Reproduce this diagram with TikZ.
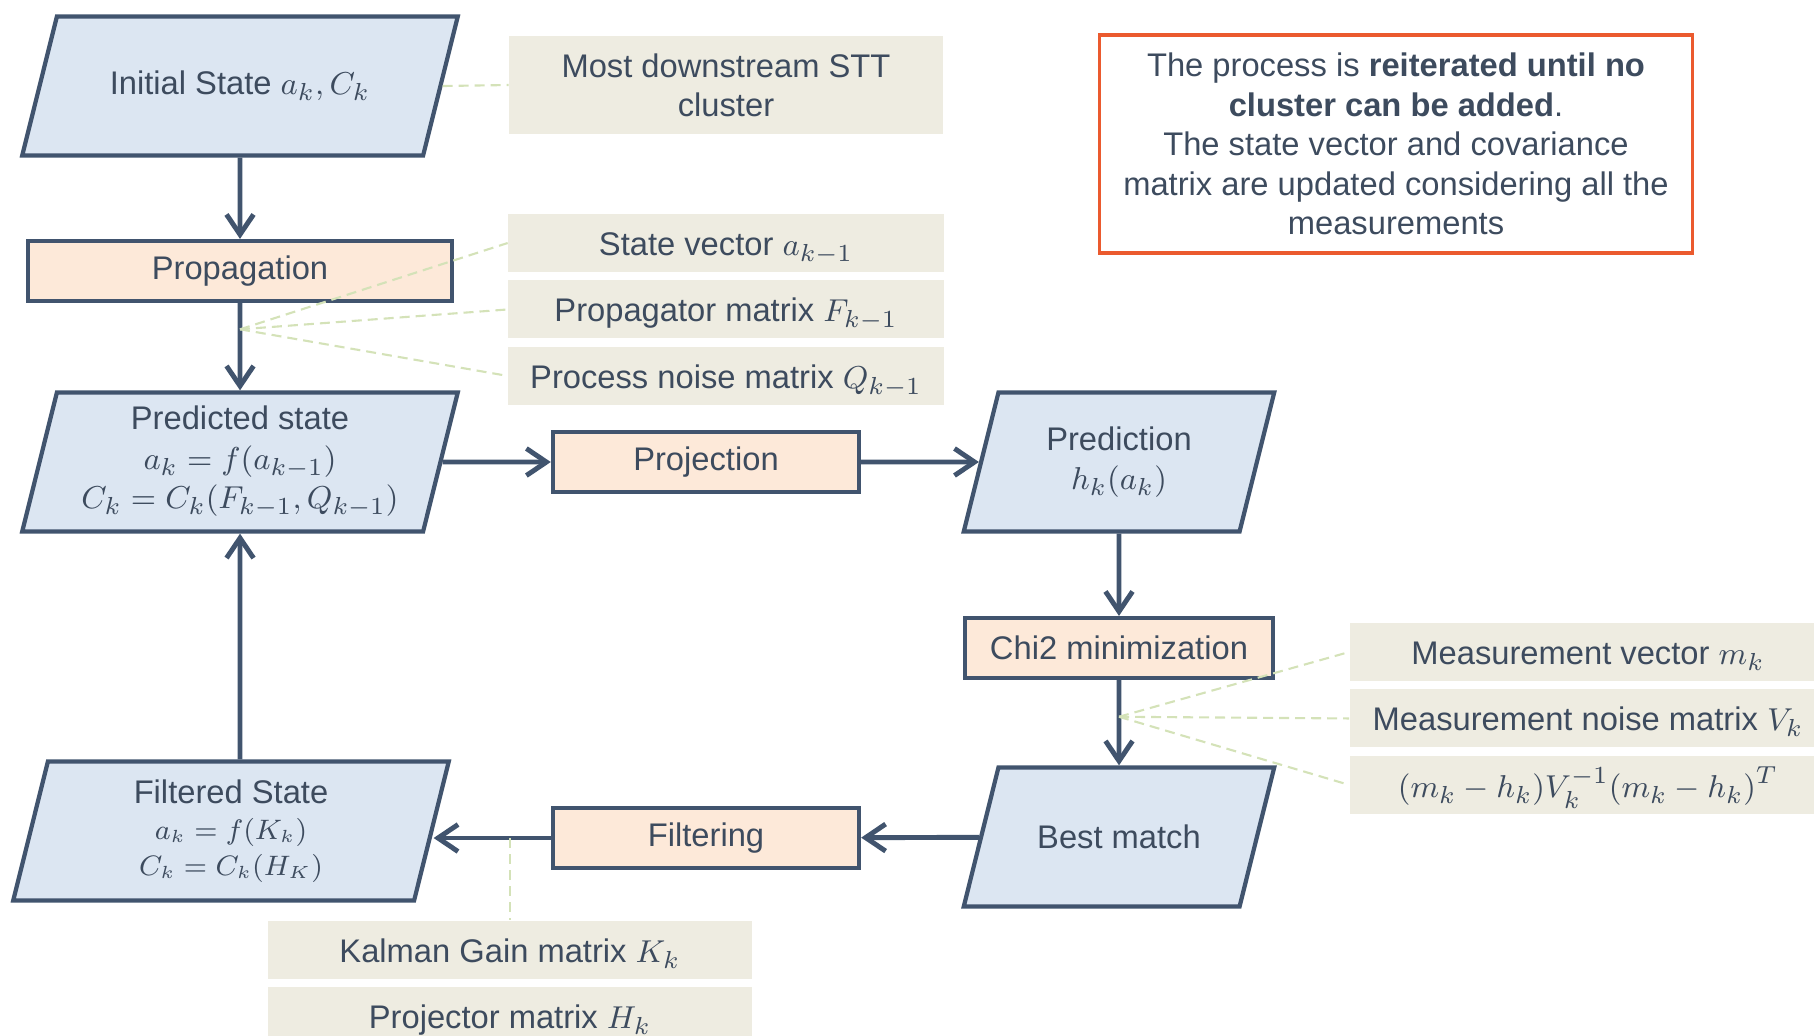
\documentclass[tikz,border=0pt]{standalone}
\usepackage{amsmath}
\usepackage{fontspec}
\setmainfont{Liberation Sans}
\usepackage{tikz}
\usetikzlibrary{positioning}
\usetikzlibrary{arrows.meta}
\usetikzlibrary{shapes.geometric}
\usetikzlibrary{calc}

\definecolor{edge}{HTML}{41546E}
\definecolor{ink}{HTML}{3D4B5E}
\definecolor{statefill}{HTML}{DCE6F2}
\definecolor{stepfill}{HTML}{FDE9D9}
\definecolor{notefill}{HTML}{EEECE1}
\definecolor{notedash}{HTML}{D4E2B8}
\definecolor{warn}{HTML}{EB5A2E}

% text block of a state node: width, height, lines
\newcommand{\stbox}[3]{\parbox[c][#2][c]{#1}{\centering #3}}

\begin{document}
\begin{tikzpicture}[x=0.01cm, y=-0.01cm]
    \tikzstyle{state}=[trapezium, trapezium left angle=76,
            trapezium right angle=104, minimum width=0pt, minimum height=0pt,
            fill=statefill, draw=edge, line width=1.2pt, text=ink,
            inner sep=0pt, font=\fontsize{9.3}{11.2}\selectfont]
    \tikzstyle{stepbox}=[rectangle, fill=stepfill, draw=edge, line width=1.2pt,
            text=ink, minimum height=0.6cm, inner sep=0pt,
            font=\fontsize{9.3}{11.2}\selectfont]
    \tikzstyle{info}=[rectangle, fill=notefill, text=ink, align=center,
            minimum height=0.58cm, inner sep=0pt,
            font=\fontsize{9.3}{11.2}\selectfont]
    \tikzstyle{infoline}=[info, text height=0.8em, text depth=0.1em]
    \tikzstyle{flow}=[draw=edge, line width=1.4pt,
            -{Straight Barb[length=0.2cm, width=0.27cm]}]
    \tikzstyle{note}=[draw=notedash, line width=0.6pt,
            dash pattern=on 0.1cm off 0.06cm]

    \useasboundingbox (0,0) rectangle (1814,1035);

        % left column
        \node[state] (init) at (240,86)
            {\stbox{3.66cm}{1.39cm}{Initial State $a_k, C_k$}};
        \node[stepbox, minimum width=4.23cm] (prop) at (240,271) {Propagation};
        \node[state] (pred) at (240,462)
            {\stbox{3.66cm}{1.39cm}{Predicted state\\ $a_k = f(a_{k-1})$\\
             $C_k = C_k(F_{k-1}, Q_{k-1})$}};
        \node[state] (filt) at (231,831)
            {\stbox{3.66cm}{1.39cm}{Filtered State\\
             {\fontsize{7.8}{10.2}\selectfont $a_k = f(K_k)$\\
             $C_k = C_k(H_K)$\par}}};

        % middle and right column
        \node[stepbox, minimum width=3.06cm] (proj) at (706,462) {Projection};
        \node[stepbox, minimum width=3.06cm] (filtr) at (706,838) {Filtering};
        \node[state] (pdn) at (1119,462)
            {\stbox{2.41cm}{1.39cm}{Prediction\\ $h_k(a_k)$}};
        \node[stepbox, minimum width=3.08cm] (chi) at (1119,648)
            {Chi2 minimization};
        \node[state] (best) at (1119,837)
            {\stbox{2.41cm}{1.39cm}{Best match}};

        % notes
        \node[info, minimum width=4.33cm, minimum height=0.98cm] (stt)
            at (726,85) {Most downstream STT\\ cluster};
        \node[infoline, minimum width=4.35cm] (sv) at (726,243)
            {State vector $a_{k-1}$};
        \node[infoline, minimum width=4.35cm, below=0.07cm of sv] (pm)
            {Propagator matrix $F_{k-1}$};
        \node[infoline, minimum width=4.35cm, below=0.07cm of pm] (pn)
            {Process noise matrix $Q_{k-1}$};

        \node[infoline, minimum width=4.76cm] (mv) at (1588,652)
            {Measurement vector $m_k$};
        \node[infoline, minimum width=4.76cm, below=0.07cm of mv] (mn)
            {Measurement noise matrix $V_k$};
        \node[infoline, minimum width=4.76cm, below=0.07cm of mn] (mh)
            {$(m_k - h_k)V_k^{-1}(m_k - h_k)^T$};

        \node[infoline, minimum width=4.84cm] (kal) at (510,950)
            {Kalman Gain matrix $K_k$};
        \node[infoline, minimum width=4.84cm, below=0.07cm of kal] (pjm)
            {Projector matrix $H_k$};

        \node[draw=warn, line width=0.9pt, text=ink, align=center,
            minimum width=5.92cm, minimum height=2.18cm,
            font=\fontsize{9.3}{11.2}\selectfont] (loop) at (1396,144)
            {The process is \textbf{reiterated until no}\\
             \textbf{cluster can be added}.\\
             The state vector and covariance\\
             matrix are updated considering all the\\
             measurements};

        % flow
        \draw[flow] (init) -- (prop);
        \draw[flow] (prop) -- (pred);
        \draw[flow] (pred) -- (proj);
        \draw[flow] (proj) -- (pdn);
        \draw[flow] (pdn) -- (chi);
        \draw[flow] (chi) -- (best);
        \draw[flow] (best) -- (filtr);
        \draw[flow] (filtr) -- (filtr -| filt.east);
        \draw[flow] (filt.north -| pred.center) -- (pred);

        % dashed links to the notes
        \draw[note] (init.east) -- (stt.west);
        \coordinate (pj) at ($(prop.south)!0.3!(prop.south |- pred.north)$);
        \foreach \b in {sv, pm, pn}
        {
            \draw[note] (pj) -- (\b.west);
        }
        \coordinate (cj) at ($(chi.south)!0.43!(chi.south |- best.north)$);
        \foreach \b in {mv, mn, mh}
        {
            \draw[note] (cj) -- (\b.west);
        }
        \coordinate (kj) at (kal.north |- filtr);
        \draw[note] (kj) -- (kal.north);
    \end{tikzpicture}
\end{document}
